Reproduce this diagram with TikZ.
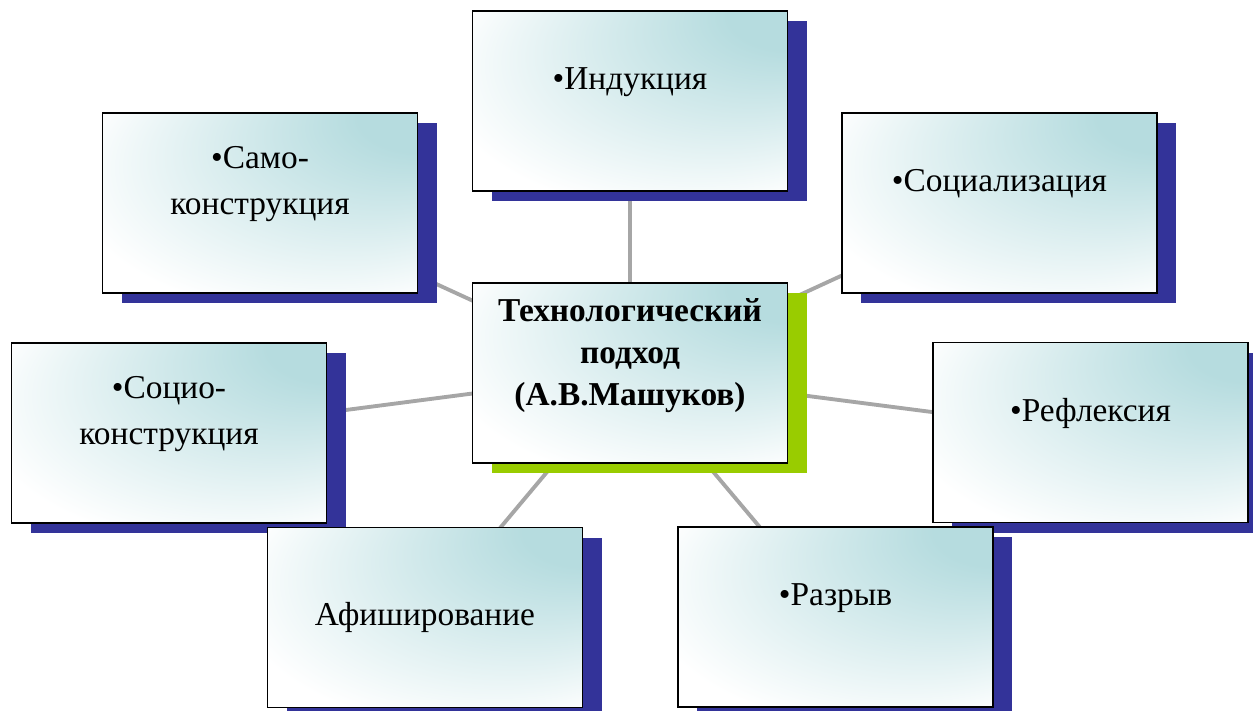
\documentclass[tikz,border=0pt]{standalone}
\usepackage{fontspec}
\setmainfont{LiberationSerif}[Extension=.ttf, UprightFont=*-Regular,
    BoldFont=*-Bold, ItalicFont=*-Italic, BoldItalicFont=*-BoldItalic]
\usepackage{xcolor}
\usetikzlibrary{shadows,backgrounds}

\definecolor{shadowblue}{RGB}{51,51,153}
\definecolor{shadowgreen}{RGB}{153,204,0}
\definecolor{boxteal}{RGB}{182,220,223}
\definecolor{linkgray}{RGB}{166,166,166}

% light teal in the upper right corner, white elsewhere
\pgfdeclareradialshading{cardshade}{\pgfpoint{32bp}{30bp}}{%
    color(0bp)=(boxteal); color(10bp)=(boxteal);
    color(38bp)=(white); color(50bp)=(white)}

\begin{document}
\begin{tikzpicture}[
            card/.style = {shape=rectangle, draw=black, line width=1.1pt,
                minimum width=6.3cm, minimum height=3.6cm, inner sep=0pt,
                shade, shading=cardshade,
                align=center, font=\fontsize{19}{26}\selectfont},
            box/.style = {card, drop shadow={shadow xshift=0.38cm,
                shadow yshift=-0.2cm, fill=shadowblue, opacity=1}}, % outer boxes
            mainbox/.style = {card, font=\bfseries\fontsize{19}{24}\selectfont,
                drop shadow={shadow xshift=0.38cm,
                shadow yshift=-0.2cm, fill=shadowgreen, opacity=1}}, % centre box
            link/.style = {draw=linkgray, line width=2.2pt} % connector
        ]
\useasboundingbox (0,0) rectangle (25.06,-14.2);

\node[mainbox] (T) at (12.6,-7.46) {Технологический\\ подход\\ (А.В.Машуков)\\ ~};

\node[box] (I) at (12.6,-2.02) {•Индукция\\ ~};
\node[box] (SK) at (5.2,-4.06) {•Само-\\ конструкция\\ ~};
\node[box] (S) at (19.99,-4.06) {•Социализация\\ ~};
\node[box] (SC) at (3.38,-8.66) {•Социо-\\ конструкция\\ ~};
\node[box] (R) at (21.81,-8.65) {•Рефлексия\\ ~};
\node[box] (A) at (8.5,-12.35) {Афиширование};
\node[box] (P) at (16.71,-12.34) {•Разрыв\\ ~};

\begin{pgfonlayer}{background}
 \path [link] (T.center) edge (I.center);
 \path [link] (T.center) edge (SK.center);
 \path [link] (T.center) edge (S.center);
 \path [link] (T.center) edge (SC.center);
 \path [link] (T.center) edge (R.center);
 \path [link] (T.center) edge (A.center);
 \path [link] (T.center) edge (P.center);
\end{pgfonlayer}
\end{tikzpicture}
\end{document}
